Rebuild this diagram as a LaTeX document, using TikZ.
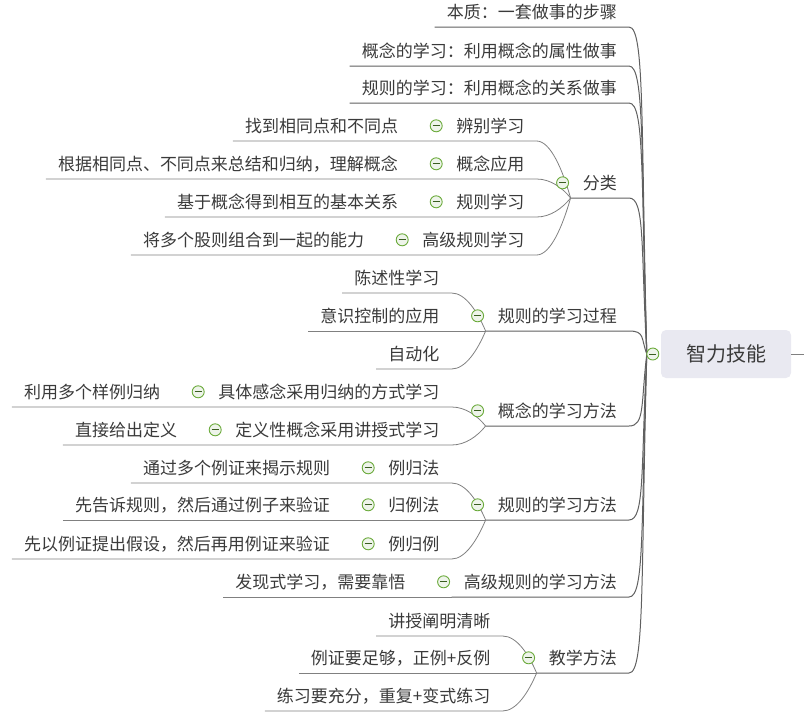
\documentclass[tikz,border=0pt]{standalone}
\usepackage{fontspec}
\usepackage{xcolor,tikz}
\usetikzlibrary{calc,positioning}
\newfontfamily\cjk{Noto Sans CJK SC}
\definecolor{TopicText}{HTML}{3A3A3A}
\definecolor{LinkGray}{HTML}{808080}
\definecolor{RootFill}{HTML}{E9E9F1}
\definecolor{FoldGreen}{HTML}{6AAA3A}
\definecolor{FoldBack}{HTML}{EEF4EA}
\tikzset{every node/.style={font=\cjk\fontsize{17}{20}\selectfont,text=TopicText},
 topic/.style={anchor=south east,inner xsep=12pt,inner ysep=0pt,minimum height=30pt},
 root/.style={fill=RootFill,rounded corners=5pt,minimum width=130pt,minimum height=48pt,
 font=\cjk\fontsize{20}{24}\selectfont},
 fold/.style={circle,draw=FoldGreen,line width=0.9pt,fill=FoldBack,minimum size=12pt,inner sep=0pt,
 path picture={\draw[FoldGreen!55!black,line width=0.9pt]
 ([xshift=-3.5pt]path picture bounding box.center)--([xshift=3.5pt]path picture bounding box.center);}},
 link/.style={draw=LinkGray,line width=0.8pt},
 trunk/.style={draw=LinkGray!75!black,line width=1pt}}
\begin{document}
\begin{tikzpicture}[x=1pt,y=-1pt]
\useasboundingbox (0,0) rectangle (804,716);
\node[root] (root) at (726,354) {智力技能};
\coordinate (hub) at ([xshift=-14pt]root.west);
\coordinate (exit) at (804,354);
\node[topic] (essence) at (629,27) {本质：一套做事的步骤};
\node[topic] (conceptlearn) at (629,66) {概念的学习：利用概念的属性做事};
\node[topic] (rulelearn) at (629,103) {规则的学习：利用概念的关系做事};
\node[topic] (classes) at (629,198) {分类};
\node[topic] (ruleproc) at (629,331) {规则的学习过程};
\node[topic] (conceptmeth) at (629,426) {概念的学习方法};
\node[topic] (rulemeth) at (629,520) {规则的学习方法};
\node[topic] (highmeth) at (629,597) {高级规则的学习方法};
\node[topic] (teaching) at (629,673) {教学方法};

\node[topic] (discrim) at ($(classes.south west)+(-34,-57)$) {辨别学习};
\node[topic] (concapply) at ($(classes.south west)+(-34,-19)$) {概念应用};
\node[topic] (ruleapply) at ($(classes.south west)+(-34,19)$) {规则学习};
\node[topic] (highrule) at ($(classes.south west)+(-34,57)$) {高级规则学习};
\node[topic] (discrimnote) at ($(discrim.south west)+(-34,0)$) {找到相同点和不同点};
\node[topic] (concnote) at ($(concapply.south west)+(-34,0)$) {根据相同点、不同点来总结和归纳，理解概念};
\node[topic] (rulenote) at ($(ruleapply.south west)+(-34,0)$) {基于概念得到相互的基本关系};
\node[topic] (highnote) at ($(highrule.south west)+(-34,0)$) {将多个股则组合到一起的能力};

\node[topic] (declar) at ($(ruleproc.south west)+(-34,-38)$) {陈述性学习};
\node[topic] (control) at ($(ruleproc.south west)+(-34,0)$) {意识控制的应用};
\node[topic] (autom) at ($(ruleproc.south west)+(-34,38)$) {自动化};

\node[topic] (concrete) at ($(conceptmeth.south west)+(-34,-19)$) {具体感念采用归纳的方式学习};
\node[topic] (defined) at ($(conceptmeth.south west)+(-34,19)$) {定义性概念采用讲授式学习};
\node[topic] (concretenote) at ($(concrete.south west)+(-34,0)$) {利用多个样例归纳};
\node[topic] (definednote) at ($(defined.south west)+(-34,0)$) {直接给出定义};

\node[topic] (egrule) at ($(rulemeth.south west)+(-34,-37)$) {例归法};
\node[topic] (ruleeg) at ($(rulemeth.south west)+(-34,0)$) {归例法};
\node[topic] (egruleeg) at ($(rulemeth.south west)+(-34,39)$) {例归例};
\node[topic] (egrulenote) at ($(egrule.south west)+(-34,0)$) {通过多个例证来揭示规则};
\node[topic] (ruleegnote) at ($(ruleeg.south west)+(-34,0)$) {先告诉规则，然后通过例子来验证};
\node[topic] (egruleegnote) at ($(egruleeg.south west)+(-34,0)$) {先以例证提出假设，然后再用例证来验证};

\node[topic] (highmethnote) at ($(highmeth.south west)+(-34,0)$) {发现式学习，需要靠悟};

\node[topic] (explain) at ($(teaching.south west)+(-34,-37)$) {讲授阐明清晰};
\node[topic] (examples) at ($(teaching.south west)+(-34,0)$) {例证要足够，正例+反例};
\node[topic] (practice) at ($(teaching.south west)+(-34,38)$) {练习要充分，重复+变式练习};

\foreach \n/\k in {essence/-229,conceptlearn/-202,rulelearn/-176,classes/-109,ruleproc/-16,
 conceptmeth/50,rulemeth/116,highmeth/170,teaching/223}
 \draw[trunk] (\n.south west) -- (\n.south east) .. controls +(16,0) and +(-6,\k) .. (hub);
\draw[link] (root.east) -- (exit);

\draw[link] (discrimnote.south west) -- (discrim.south east) .. controls +(14,0) and +(-8,-28) .. (classes.south west);
\draw[link] (concnote.south west) -- (concapply.south east) .. controls +(14,0) and +(-8,-10) .. (classes.south west);
\draw[link] (rulenote.south west) -- (ruleapply.south east) .. controls +(14,0) and +(-8,10) .. (classes.south west);
\draw[link] (highnote.south west) -- (highrule.south east) .. controls +(14,0) and +(-8,28) .. (classes.south west);

\draw[link] (declar.south west) -- (declar.south east) .. controls +(14,0) and +(-8,-19) .. (ruleproc.south west);
\draw[link] (control.south west) -- (ruleproc.south west);
\draw[link] (autom.south west) -- (autom.south east) .. controls +(14,0) and +(-8,19) .. (ruleproc.south west);

\draw[link] (concretenote.south west) -- (concrete.south east) .. controls +(14,0) and +(-8,-10) .. (conceptmeth.south west);
\draw[link] (definednote.south west) -- (defined.south east) .. controls +(14,0) and +(-8,10) .. (conceptmeth.south west);

\draw[link] (egrulenote.south west) -- (egrule.south east) .. controls +(14,0) and +(-8,-19) .. (rulemeth.south west);
\draw[link] (ruleegnote.south west) -- (rulemeth.south west);
\draw[link] (egruleegnote.south west) -- (egruleeg.south east) .. controls +(14,0) and +(-8,19) .. (rulemeth.south west);

\draw[link] (highmethnote.south west) -- (highmeth.south west);

\draw[link] (explain.south west) -- (explain.south east) .. controls +(14,0) and +(-8,-19) .. (teaching.south west);
\draw[link] (examples.south west) -- (teaching.south west);
\draw[link] (practice.south west) -- (practice.south east) .. controls +(14,0) and +(-8,19) .. (teaching.south west);

\node[fold] (rootfold) at ([xshift=-8pt]root.west) {};
\foreach \n in {classes,ruleproc,conceptmeth,rulemeth,highmeth,teaching,discrim,concapply,ruleapply,
 highrule,concrete,defined,egrule,ruleeg,egruleeg}
 \node[fold] (\n fold) at ([xshift=-8pt]\n.west) {};
\end{tikzpicture}
\end{document}
